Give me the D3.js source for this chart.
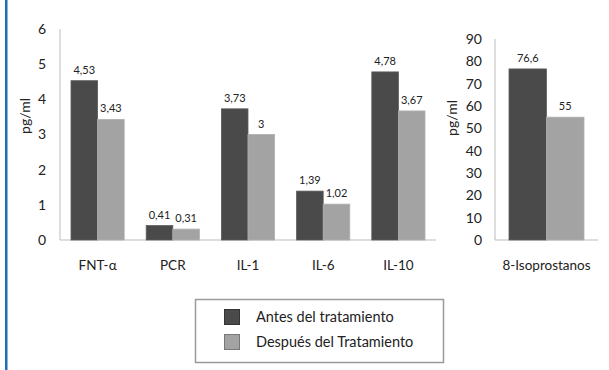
<!DOCTYPE html>
<html>
<head>
<meta charset="utf-8">
<script src="https://cdn.jsdelivr.net/npm/d3@7"></script>
<style>
  html, body { margin: 0; padding: 0; background: #fff; }
  svg { display: block; font-family: Lato, "Open Sans", sans-serif; }
</style>
</head>
<body>
<svg id="chart" width="609" height="370"></svg>
<script>
// Inflammatory markers, before and after treatment (pg/ml)
const categories = ["FNT-α", "PCR", "IL-1", "IL-6", "IL-10"];
const antes = [4.53, 0.41, 3.73, 1.39, 4.78];
const despues = [3.43, 0.31, 3.00, 1.02, 3.67];
const antesLabels = ["4,53", "0,41", "3,73", "1,39", "4,78"];
const despuesLabels = ["3,43", "0,31", "3", "1,02", "3,67"];
const leftTicks = [0, 1, 2, 3, 4, 5, 6];

// Oxidative stress marker on its own scale
const isoCategories = ["8-Isoprostanos"];
const isoAntes = [76.6];
const isoDespues = [55];
const isoAntesLabels = ["76,6"];
const isoDespuesLabels = ["55"];
const rightTicks = [0, 10, 20, 30, 40, 50, 60, 70, 80, 90];

const seriesNames = ["Antes del tratamiento", "Después del Tratamiento"];
const colors = ["#4a4a4a", "#a3a3a3"];

const svg = d3.select("#chart");

// blue frame edge on the left
svg.append("rect").attr("x", 5).attr("y", 0).attr("width", 2.5).attr("height", 370).attr("fill", "#1f6db3");

function panel(opts) {
  const { cats, a, b, aLab, bLab, ticks, x0, x1, yTop, yBase, domainMax, pad, labelX, labelY } = opts;
  const x = d3.scaleBand().domain(cats).range([x0, x1]);
  const y = d3.scaleLinear().domain([0, domainMax]).range([yBase, yTop]);
  const g = svg.append("g");

  // tick labels
  const axis = d3.axisLeft(y).tickValues(ticks).tickSize(0).tickPadding(0).tickFormat(d3.format("d"));
  const ax = g.append("g").attr("transform", `translate(${opts.tickX},0)`).call(axis);
  ax.select(".domain").remove();
  ax.selectAll("text").attr("font-size", 14).attr("fill", "#222").attr("font-family", "Lato, sans-serif");

  // axis lines
  g.append("line").attr("x1", x0).attr("x2", x0).attr("y1", yTop).attr("y2", yBase).attr("stroke", "#bdbdbd");
  g.append("line").attr("x1", x0).attr("x2", x1).attr("y1", yBase).attr("y2", yBase).attr("stroke", "#bdbdbd");

  const bw = (x.bandwidth() - 2 * pad) / 2;
  [a, b].forEach((vals, s) => {
    const labs = s === 0 ? aLab : bLab;
    cats.forEach((c, i) => {
      const bx = x(c) + pad + s * bw;
      g.append("rect")
        .attr("x", bx).attr("y", y(vals[i]))
        .attr("width", bw).attr("height", yBase - y(vals[i]))
        .attr("fill", colors[s])
        .attr("stroke", s === 0 ? "#5c5c5c" : "#b0b0b0").attr("stroke-width", 0.8);
      g.append("text")
        .attr("x", bx + bw / 2).attr("y", y(vals[i]) - 7)
        .attr("text-anchor", "middle").attr("font-size", 11).attr("fill", "#222")
        .text(labs[i]);
    });
  });

  cats.forEach(c => {
    g.append("text")
      .attr("x", x(c) + x.bandwidth() / 2).attr("y", yBase + 30)
      .attr("text-anchor", "middle").attr("font-size", 13.5).attr("fill", "#222")
      .text(c);
  });

  g.append("text")
    .attr("transform", `translate(${labelX},${labelY}) rotate(-90)`)
    .attr("text-anchor", "middle").attr("font-size", 14).attr("fill", "#222")
    .text("pg/ml");
}

panel({
  cats: categories, a: antes, b: despues, aLab: antesLabels, bLab: despuesLabels,
  ticks: leftTicks, x0: 60, x1: 436, yTop: 29, yBase: 240, domainMax: 6, pad: 11,
  tickX: 46, labelX: 30, labelY: 116
});

panel({
  cats: isoCategories, a: isoAntes, b: isoDespues, aLab: isoAntesLabels, bLab: isoDespuesLabels,
  ticks: rightTicks, x0: 495, x1: 598, yTop: 39, yBase: 240, domainMax: 90, pad: 14,
  tickX: 482, labelX: 457, labelY: 118
});

// legend
const lg = svg.append("g");
lg.append("rect").attr("x", 195.5).attr("y", 299.5).attr("width", 248).attr("height", 63)
  .attr("fill", "#fff").attr("stroke", "#9a9a9a").attr("stroke-width", 1.5);
seriesNames.forEach((name, i) => {
  const yy = 309 + i * 25;
  lg.append("rect").attr("x", 224.5).attr("y", yy + 0.5).attr("width", 15).attr("height", 15)
    .attr("fill", colors[i]).attr("stroke", i === 0 ? "#333" : "#777").attr("stroke-width", 1);
  lg.append("text").attr("x", 256).attr("y", yy + 12.5)
    .attr("font-size", 14.5).attr("fill", "#222").text(name);
});
</script>
</body>
</html>
